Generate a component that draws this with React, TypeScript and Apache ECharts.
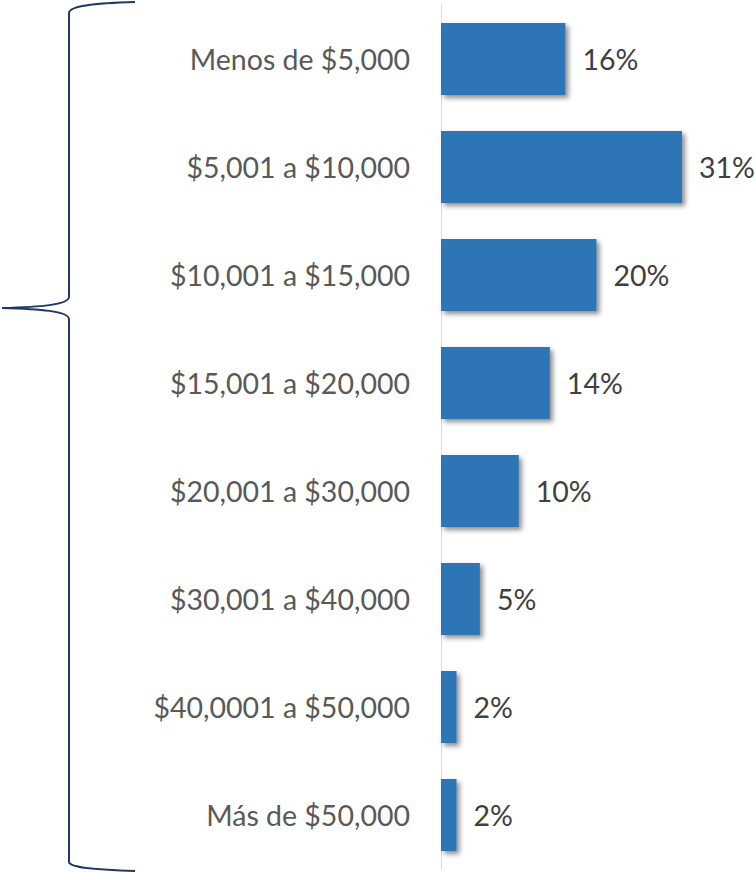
import React, { useEffect, useRef } from "react";
import * as echarts from "echarts";

const categories = [
  "Menos de $5,000",
  "$5,001 a $10,000",
  "$10,001 a $15,000",
  "$15,001 a $20,000",
  "$20,001 a $30,000",
  "$30,001 a $40,000",
  "$40,0001 a $50,000",
  "Más de $50,000",
];
const values = [16, 31, 20, 14, 10, 5, 2, 2];

const braceD =
  "M135,2 C100,3 69,5 69,13 L69,297 C68,305 40,307 2,308 C40,309 68,311 69,319 L69,862 C70,868 100,870 135,871";

let registered = false;

export default function App() {
  const ref = useRef<HTMLDivElement>(null);
  useEffect(() => {
    if (!registered) {
      echarts.graphic.registerShape("brace", echarts.graphic.extendPath(braceD, {}) as any);
      registered = true;
    }
    const chart = echarts.init(ref.current!, null, { renderer: "svg" });
    chart.setOption({
      animation: false,
      grid: { left: 441, top: 5, width: 311, height: 864 },
      xAxis: {
        type: "value",
        min: 0,
        max: 40,
        show: false,
      },
      yAxis: {
        type: "category",
        data: categories,
        inverse: true,
        axisLine: { show: true, lineStyle: { color: "#D9D9D9", width: 1 } },
        axisTick: { show: false },
        axisLabel: {
          margin: 31,
          fontSize: 28.5,
          color: "#595959",
          fontFamily: "Lato",
        },
      },
      series: [
        {
          type: "bar",
          data: values,
          barCategoryGap: "33.3%",
          itemStyle: {
            color: "#2E75B6",
            shadowColor: "rgba(0,0,0,0.45)",
            shadowBlur: 5,
            shadowOffsetX: 3,
            shadowOffsetY: 3,
          },
          label: {
            show: true,
            position: "right",
            distance: 17,
            formatter: "{c}%",
            fontSize: 28.5,
            color: "#404040",
            fontFamily: "Lato",
          },
        },
      ],
      graphic: [
        {
          type: "brace",
          x: 0,
          y: 0,
          style: { fill: "none", stroke: "#203864", lineWidth: 2 },
        },
      ],
    });
    return () => chart.dispose();
  }, []);
  return (
    <div
      ref={ref}
      style={{ position: "absolute", left: 0, top: 0, width: 756, height: 872 }}
    />
  );
}
